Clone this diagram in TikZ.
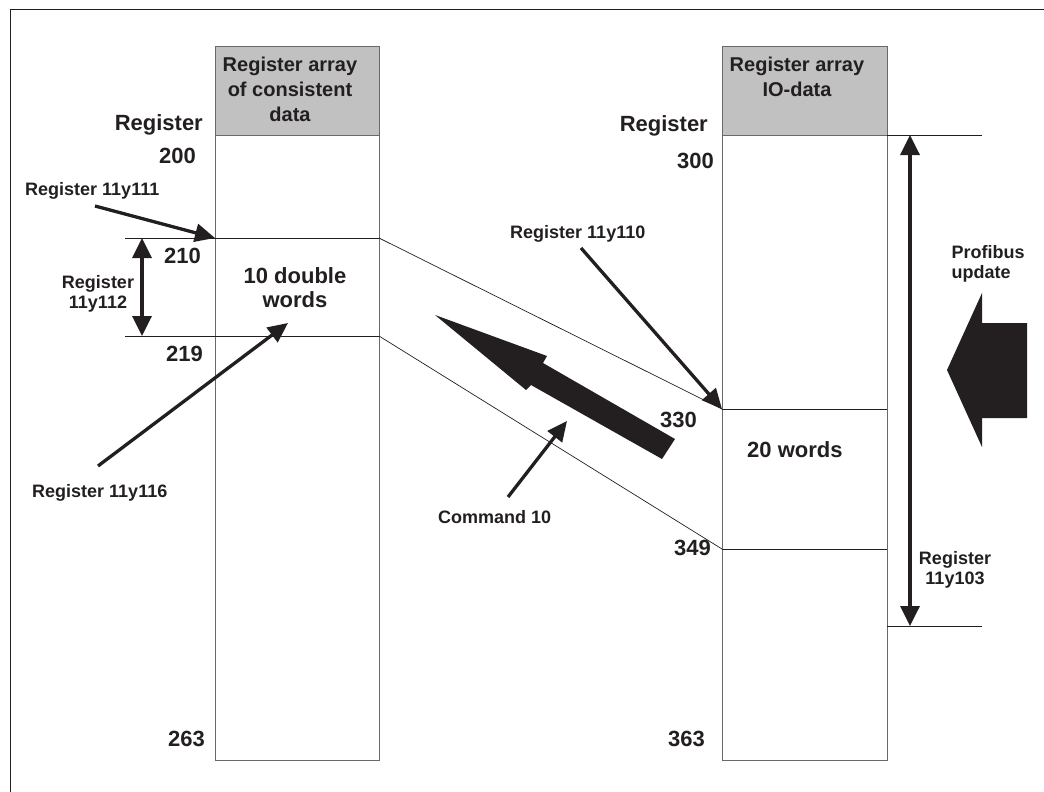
\documentclass[tikz,border=0pt]{standalone}
\usepackage{fontspec}
\setmainfont{Liberation Sans}
\usepackage{tikz}
\usetikzlibrary{positioning}
\usetikzlibrary{arrows.meta}
\definecolor{ink}{RGB}{35,31,32}
\definecolor{rim}{RGB}{105,105,105}
\definecolor{headgray}{RGB}{193,193,193}

\begin{document}
\begin{tikzpicture}[x=1pt,y=-1pt,
    lbl/.style={font=\fontsize{18}{20.5}\selectfont\bfseries,text=ink,inner sep=0,align=center},
    num/.style={font=\fontsize{22}{24}\selectfont\bfseries,text=ink,inner sep=0},
    head/.style={font=\fontsize{20}{25}\selectfont\bfseries,text=ink,inner sep=0,align=center},
    pointer/.style={draw=ink,line width=3.3pt,-{Triangle[length=20pt,width=18pt]}},
    span/.style={draw=ink,line width=3.5pt,{Triangle[length=20pt,width=19pt]}-{Triangle[length=20pt,width=19pt]}},
    mark line/.style={draw=ink,line width=0.9pt},
    slant/.style={draw=ink,line width=0.7pt}]
  \useasboundingbox (0,0) rectangle (1044,792);
  \draw[ink,line width=0.9pt] (10,792) -- (10,9) -- (1044,9);

  % register array of consistent data
  \coordinate (cdtop) at (215,46);
  \coordinate (cdhead) at (379,135);
  \coordinate (cdbot) at (379,760);
  \filldraw[fill=headgray,draw=rim,line width=0.9pt] (cdtop) rectangle (cdhead);
  \draw[rim,line width=0.9pt] (cdtop |- cdhead) rectangle (cdbot);
  \node[head] (cdtitle) at (290,89) {Register array\\of consistent\\data};

  % register array IO-data
  \coordinate (iotop) at (722,46);
  \coordinate (iohead) at (887,135);
  \coordinate (iobot) at (887,760);
  \filldraw[fill=headgray,draw=rim,line width=0.9pt] (iotop) rectangle (iohead);
  \draw[rim,line width=0.9pt] (iotop |- iohead) rectangle (iobot);
  \node[head] (iotitle) at (797,77) {Register array\\IO-data};

  \coordinate (a210) at (215,238);
  \coordinate (b210) at (379,238);
  \coordinate (a219) at (215,336);
  \coordinate (b219) at (379,336);
  \coordinate (a330) at (722,409);
  \coordinate (b330) at (887,409);
  \coordinate (a349) at (722,549);
  \coordinate (b349) at (887,549);
  \draw[mark line] (125,238) -- (b210);
  \draw[mark line] (125,336) -- (b219);
  \draw[slant] (b210) -- (a330);
  \draw[slant] (b219) -- (a349);
  \draw[mark line] (a330) -- (b330);
  \draw[mark line] (a349) -- (b349);
  \coordinate (uptop) at (982,135);
  \coordinate (upbot) at (982,626);
  \draw[mark line] (iohead) -- (uptop);
  \draw[mark line] (887,626) -- (upbot);

  \node[num,anchor=base east] (regl) at (203,130) {Register};
  \node[num,anchor=base east] (n200) at (196,163) {200};
  \node[num,anchor=base east] (n210) at (201,263) {210};
  \node[num,anchor=base east] (n219) at (203,361) {219};
  \node[num,anchor=base east] (n263) at (205,746) {263};
  \node[num,anchor=base east] (regr) at (708,131) {Register};
  \node[num,anchor=base east] (n300) at (714,168) {300};
  \node[num,anchor=base east] (n330) at (697,427) {330};
  \node[num,anchor=base east] (n349) at (711,555) {349};
  \node[num,anchor=base east] (n363) at (705,746) {363};
  \node[num,align=center] (dwords) at (295,288) {10 double\\words};
  \node[num,anchor=base west] (words) at (747,457) {20 words};

  \node[lbl,anchor=base west] (r111) at (25,195) {Register 11y111};
  \node[lbl] (r112) at (98,294) {Register\\11y112};
  \node[lbl,anchor=base west] (r116) at (32,497) {Register 11y116};
  \node[lbl,anchor=base west] (r110) at (510,238) {Register 11y110};
  \node[lbl,anchor=base west] (cmd) at (438,523) {Command 10};
  \node[lbl,align=left] (pbus) at (988,264) {Profibus\\update};
  \node[lbl] (r103) at (955,570) {Register\\11y103};

  \coordinate (t111) at (95,206);
  \coordinate (t116) at (98,466);
  \coordinate (h116) at (288,323);
  \coordinate (t110) at (581,248);
  \coordinate (tcmd) at (508,497);
  \coordinate (hcmd) at (567,421);
  \draw[pointer] (t111) -- (a210);
  \draw[pointer] (t116) -- (h116);
  \draw[pointer] (t110) -- (a330);
  \draw[pointer] (tcmd) -- (hcmd);
  \draw[span] (142,238) -- (142,336);
  \draw[span] (910,135) -- (910,626);

  \fill[ink] (435,315) -- (547,356) -- (543,363) -- (675,439) -- (662,459) -- (531,385) -- (526,390) -- cycle;
  \fill[ink] (947,370) -- (982,293) -- (982,323) -- (1027,323) -- (1027,418) -- (982,418) -- (982,447) -- cycle;
\end{tikzpicture}
\end{document}
